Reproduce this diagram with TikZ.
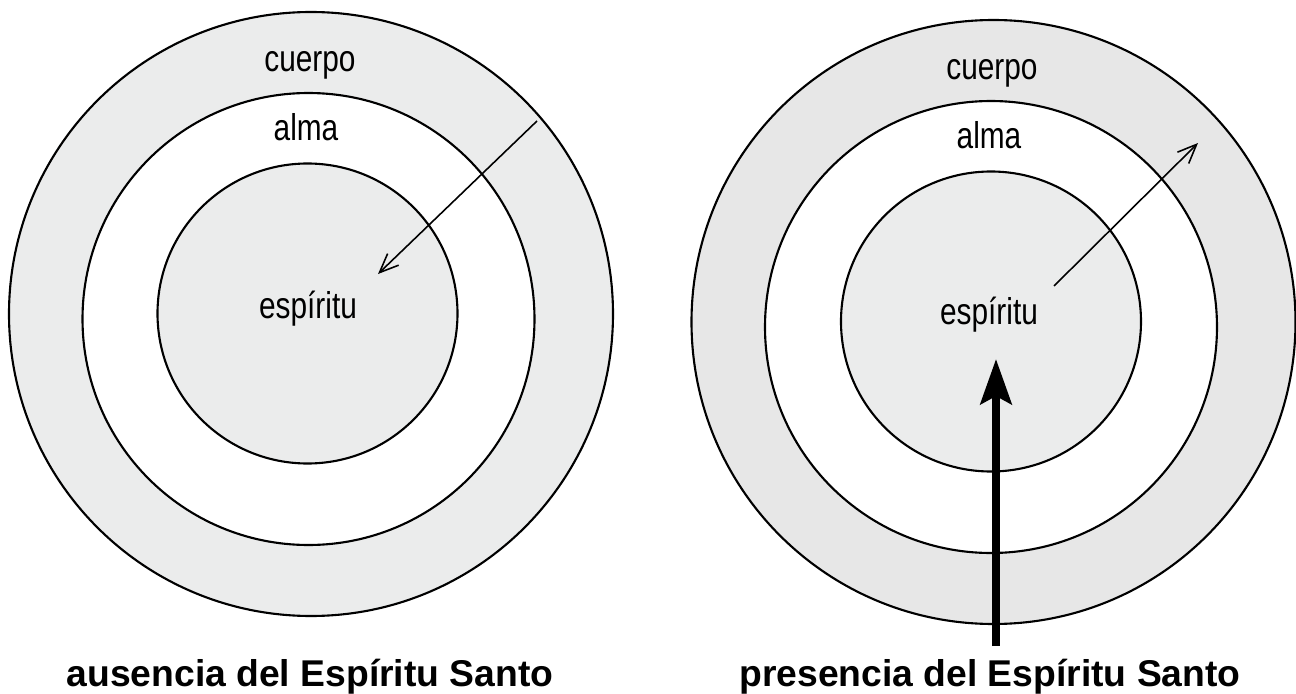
\documentclass[tikz,border=0pt]{standalone}
\usepackage{fontspec}
\setmainfont{Liberation Sans}
\newfontfamily\narrowfont[FakeStretch=0.8]{Liberation Sans}
\usetikzlibrary{arrows.meta}
\definecolor{ringgray}{RGB}{235,236,236}
\definecolor{bodygray}{RGB}{231,231,231}
\begin{document}
\begin{tikzpicture}[x=0.01cm,y=-0.01cm,
  ring/.style={draw=black,line width=0.6pt},
  lbl/.style={anchor=base,inner sep=0pt,font=\narrowfont\fontsize{10.6pt}{12pt}\selectfont},
  title/.style={anchor=base,inner sep=0pt,font=\fontsize{10.6pt}{12pt}\selectfont\bfseries},
  thinarrow/.style={line width=0.45pt,-{Straight Barb[length=0.19cm,width=0.16cm]}}]
\useasboundingbox (0,0) rectangle (1296,694);
% ausencia
\filldraw[ring,fill=ringgray] (311,314) circle[radius=302];
\filldraw[ring,fill=white] (308.5,319) circle[radius=226];
\filldraw[ring,fill=ringgray] (307.5,313.5) circle[radius=150];
\node[lbl] (cuerpoL) at (310,71) {cuerpo};
\node[lbl] (almaL) at (306,140) {alma};
\node[lbl] (espirituL) at (308,318) {espíritu};
\coordinate (inL) at (537,121);
\coordinate (tipL) at (378,274);
\draw[thinarrow] (inL) -- (tipL);
\node[title] (ausencia) at (310,686) {ausencia del Espíritu Santo};
% presencia
\filldraw[ring,fill=bodygray] (993.5,322) circle[radius=302];
\filldraw[ring,fill=white] (991,327) circle[radius=226];
\filldraw[ring,fill=ringgray] (991,321.5) circle[radius=150];
\node[lbl] (cuerpoR) at (992,79) {cuerpo};
\node[lbl] (almaR) at (989,148) {alma};
\node[lbl] (espirituR) at (989,324) {espíritu};
\coordinate (outR) at (1054,286);
\coordinate (tipR) at (1198,143);
\draw[thinarrow] (outR) -- (tipR);
\coordinate (spiritin) at (996,646);
\coordinate (spirittip) at (996,359);
\draw[line width=0.08cm,-{Stealth[length=0.45cm,width=0.31cm,inset=0.08cm]}] (spiritin) -- (spirittip);
\node[title] (presencia) at (990,686) {presencia del Espíritu Santo};
\end{tikzpicture}
\end{document}
